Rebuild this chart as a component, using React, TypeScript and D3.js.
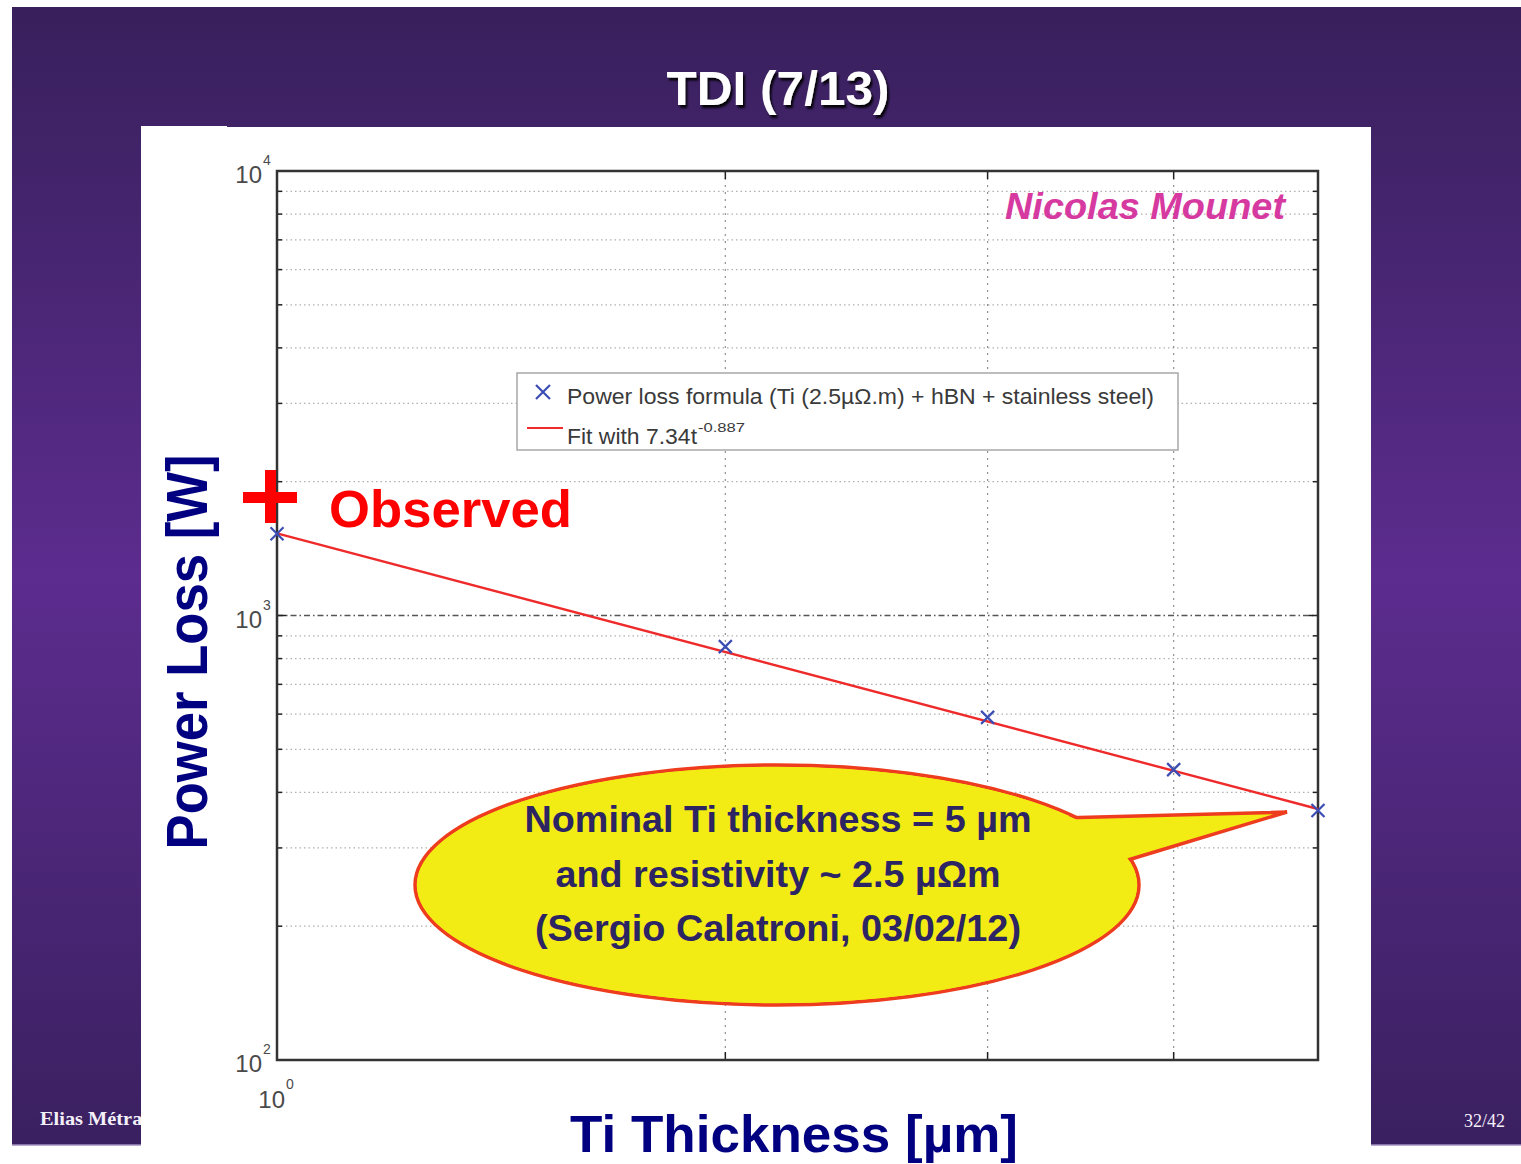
import React from "react";
import * as d3 from "d3";

// Ti thickness [µm] and computed power loss [W]
const thickness = [1, 2, 3, 4, 5];
const powerLoss = [1528, 851, 590, 450, 364];
// Power-law fit, evaluated at the ends of the thickness range (straight in log-log)
const fitThickness = [1, 5];
const fitPower = [1530, 367];

const yMajorTicks = [100, 1000, 10000];
const yMajorExp = ["2", "3", "4"];
const xLabelTicks = [1];
const xLabelExp = ["0"];

const W = 1521;
const H = 1164;
const plot = { left: 277, right: 1318, top: 171, bottom: 1060 };

export default function App() {
  const x = d3.scaleLog().domain([1, 5]).range([plot.left, plot.right]);
  const y = d3.scaleLog().domain([100, 10000]).range([plot.bottom, plot.top]);

  const yTicks = y.ticks();
  const xTicks = x.ticks().filter((t) => Number.isInteger(t));
  const innerY = yTicks.filter((t) => t > 100 && t < 10000);
  const innerX = xTicks.filter((t) => t > 1 && t < 5);
  const isMajor = (t: number) => Math.abs(Math.log10(t) - Math.round(Math.log10(t))) < 1e-9;

  const line = d3
    .line<number>()
    .x((_, i) => x(fitThickness[i]))
    .y((d) => y(d));

  const cross = (cx: number, cy: number, s: number) =>
    `M${cx - s},${cy - s}L${cx + s},${cy + s}M${cx - s},${cy + s}L${cx + s},${cy - s}`;

  const navy = "#000080";
  const tickFont = "Liberation Sans, Arial, sans-serif";

  return (
    <div style={{ position: "absolute", left: 0, top: 0, width: W, height: H }}>
      <svg width={W} height={H} viewBox={`0 0 ${W} ${H}`} style={{ display: "block" }}>
        <defs>
          <linearGradient id="slideBg" x1="0" y1="0" x2="0" y2="1">
            <stop offset="0%" stopColor="#38205c" />
            <stop offset="50%" stopColor="#5c2c8e" />
            <stop offset="100%" stopColor="#3a2060" />
          </linearGradient>
          <filter id="titleShadow" x="-10%" y="-20%" width="130%" height="150%">
            <feDropShadow dx="2" dy="3" stdDeviation="1.2" floodColor="#000" floodOpacity="0.9" />
          </filter>
        </defs>

        <rect x={0} y={0} width={W} height={H} fill="#ffffff" />
        {/* slide background */}
        <rect x={12} y={7} width={W - 12} height={1138} fill="url(#slideBg)" />
        <line x1={12} y1={1145} x2={W} y2={1145} stroke="#a090c0" strokeWidth={1.5} />

        <text
          x={778}
          y={105}
          textAnchor="middle"
          fontFamily="Liberation Sans, Arial, sans-serif"
          fontWeight="bold"
          fontSize={48}
          fill="#ffffff"
          textLength={223}
          lengthAdjust="spacingAndGlyphs"
          filter="url(#titleShadow)"
        >
          TDI (7/13)
        </text>

        <text
          x={40}
          y={1125}
          fontFamily="Liberation Serif, Times New Roman, serif"
          fontWeight="bold"
          fontSize={19}
          fill="#f4f0fa"
          textLength={108}
          lengthAdjust="spacingAndGlyphs"
        >
          Elias Métral
        </text>
        <text x={1505} y={1127} textAnchor="end" fontFamily="Liberation Serif, Times New Roman, serif" fontSize={18} fill="#f4f0fa">
          32/42
        </text>

        {/* white figure panel */}
        <rect x={141} y={127} width={1230} height={H - 127} fill="#ffffff" />
        <rect x={141} y={126} width={86} height={2} fill="#ffffff" />

        {/* grid */}
        <g>
          {innerY.map((t) => (
            <line
              key={`gy${t}`}
              x1={plot.left}
              x2={plot.right}
              y1={y(t)}
              y2={y(t)}
              stroke={isMajor(t) ? "#555" : "#b0b0b0"}
              strokeWidth={isMajor(t) ? 1.3 : 1.3}
              strokeDasharray={isMajor(t) ? "6,3,1.5,3" : "1.5,3"}
            />
          ))}
          {innerX.map((t) => (
            <line
              key={`gx${t}`}
              x1={x(t)}
              x2={x(t)}
              y1={plot.top}
              y2={plot.bottom}
              stroke="#909090"
              strokeWidth={1.2}
              strokeDasharray="2,5"
            />
          ))}
        </g>

        {/* tick marks */}
        <g stroke="#222" strokeWidth={1.5}>
          {innerY.map((t) => {
            const len = isMajor(t) ? 9 : 5;
            return (
              <g key={`ty${t}`}>
                <line x1={plot.left} x2={plot.left + len} y1={y(t)} y2={y(t)} />
                <line x1={plot.right} x2={plot.right - len} y1={y(t)} y2={y(t)} />
              </g>
            );
          })}
          {innerX.map((t) => (
            <g key={`tx${t}`}>
              <line x1={x(t)} x2={x(t)} y1={plot.bottom} y2={plot.bottom - 8} />
              <line x1={x(t)} x2={x(t)} y1={plot.top} y2={plot.top + 8} />
            </g>
          ))}
        </g>

        <rect
          x={plot.left}
          y={plot.top}
          width={plot.right - plot.left}
          height={plot.bottom - plot.top}
          fill="none"
          stroke="#333"
          strokeWidth={2.5}
        />

        {/* tick labels */}
        <g fontFamily={tickFont} fill="#4a4a4a">
          {yMajorTicks.map((t, i) => (
            <g key={`yl${t}`}>
              <text x={262} y={y(t) + 12} textAnchor="end" fontSize={24}>
                10
              </text>
              <text x={263} y={y(t) - 6} fontSize={14}>
                {yMajorExp[i]}
              </text>
            </g>
          ))}
          {xLabelTicks.map((t, i) => (
            <g key={`xl${t}`}>
              <text x={x(t) + 8} y={1108} textAnchor="end" fontSize={24}>
                10
              </text>
              <text x={x(t) + 9} y={1089} fontSize={14}>
                {xLabelExp[i]}
              </text>
            </g>
          ))}
        </g>

        {/* fit line and data */}
        <path d={line(fitPower) || ""} fill="none" stroke="#ee2a2a" strokeWidth={2.4} />
        <g stroke="#3c4db4" strokeWidth={2.2} fill="none">
          {thickness.map((t, i) => (
            <path key={`pt${t}`} d={cross(x(t), y(powerLoss[i]), 6.5)} />
          ))}
        </g>

        {/* legend */}
        <g>
          <rect x={517} y={373} width={661} height={77} fill="#ffffff" stroke="#a8a8a8" strokeWidth={1.5} />
          <path d={cross(543, 392, 7)} stroke="#3c4db4" strokeWidth={2.2} fill="none" />
          <text
            x={567}
            y={404}
            fontFamily={tickFont}
            fontSize={22}
            fill="#3a3a3a"
            textLength={587}
            lengthAdjust="spacingAndGlyphs"
          >
            Power loss formula (Ti (2.5µΩ.m) + hBN + stainless steel)
          </text>
          <line x1={527} x2={563} y1={428} y2={428} stroke="#ee2a2a" strokeWidth={2.2} />
          <text x={567} y={444} fontFamily={tickFont} fontSize={22} fill="#3a3a3a" textLength={130} lengthAdjust="spacingAndGlyphs">
            Fit with 7.34t
          </text>
          <text x={698} y={432} fontFamily={tickFont} fontSize={12} fill="#3a3a3a" textLength={47} lengthAdjust="spacingAndGlyphs">
            -0.887
          </text>
        </g>

        <text
          x={1005}
          y={219}
          fontFamily="Liberation Sans, Arial, sans-serif"
          fontWeight="bold"
          fontStyle="italic"
          fontSize={36}
          fill="#d63aa0"
          textLength={280}
          lengthAdjust="spacingAndGlyphs"
        >
          Nicolas Mounet
        </text>

        {/* observed marker */}
        <g fill="#ff0000">
          <rect x={243} y={492} width={54} height={11} />
          <rect x={265} y={470} width={11} height={53} />
        </g>
        <text
          x={329}
          y={527}
          fontFamily="Liberation Sans, Arial, sans-serif"
          fontWeight="bold"
          fontSize={52}
          fill="#ff0000"
          textLength={243}
          lengthAdjust="spacingAndGlyphs"
        >
          Observed
        </text>

        {/* speech bubble */}
        <g>
          <ellipse cx={777} cy={885} rx={362} ry={120} fill="#f3ec14" stroke="#ee3c1e" strokeWidth={3.5} />
          <polygon
            points="1060,818 1287,812 1128,860 1110,868"
            fill="#f3ec14"
            stroke="#ee3c1e"
            strokeWidth={3.5}
            strokeLinejoin="miter"
          />
          <ellipse cx={777} cy={885} rx={360} ry={118} fill="#f3ec14" />
        </g>
        <g fontFamily="Liberation Sans, Arial, sans-serif" fontWeight="bold" fill="#2c2463" textAnchor="middle">
          <text x={778} y={832} fontSize={37} textLength={507} lengthAdjust="spacingAndGlyphs">
            Nominal Ti thickness = 5 µm
          </text>
          <text x={778} y={887} fontSize={37} textLength={445} lengthAdjust="spacingAndGlyphs">
            and resistivity ~ 2.5 µΩm
          </text>
          <text x={778} y={941} fontSize={37} textLength={486} lengthAdjust="spacingAndGlyphs">
            (Sergio Calatroni, 03/02/12)
          </text>
        </g>

        {/* axis titles */}
        <text
          transform="translate(207,652) rotate(-90)"
          textAnchor="middle"
          fontFamily="Liberation Sans, Arial, sans-serif"
          fontWeight="bold"
          fontSize={58}
          fill={navy}
          textLength={395}
          lengthAdjust="spacingAndGlyphs"
        >
          Power Loss [W]
        </text>
        <text
          x={794}
          y={1152}
          textAnchor="middle"
          fontFamily="Liberation Sans, Arial, sans-serif"
          fontWeight="bold"
          fontSize={52}
          fill={navy}
          textLength={448}
          lengthAdjust="spacingAndGlyphs"
        >
          Ti Thickness [µm]
        </text>
      </svg>
    </div>
  );
}
